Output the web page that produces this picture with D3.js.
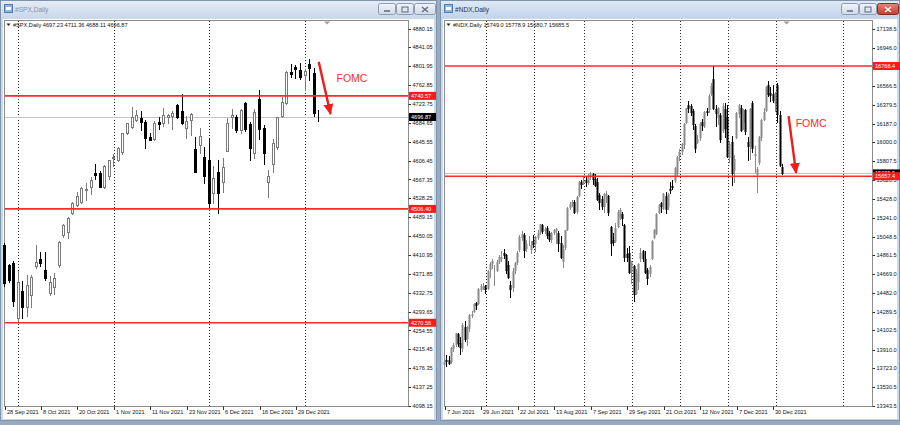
<!DOCTYPE html>
<html><head><meta charset="utf-8">
<script src="https://cdn.jsdelivr.net/npm/d3@7/dist/d3.min.js"></script>
<style>html,body{margin:0;padding:0;background:#9aabc0;}svg{display:block;font-family:"Liberation Sans",Arial,sans-serif;}</style>
</head><body>
<svg id="chart" width="900" height="425"></svg>
<script>
// ---------------- DATA ----------------
const spxDates = ["28 Sep 2021","29 Sep 2021","30 Sep 2021","1 Oct 2021","4 Oct 2021","5 Oct 2021","6 Oct 2021","7 Oct 2021","8 Oct 2021","11 Oct 2021","12 Oct 2021","13 Oct 2021","14 Oct 2021","15 Oct 2021","18 Oct 2021","19 Oct 2021","20 Oct 2021","21 Oct 2021","22 Oct 2021","25 Oct 2021","26 Oct 2021","27 Oct 2021","28 Oct 2021","29 Oct 2021","1 Nov 2021","2 Nov 2021","3 Nov 2021","4 Nov 2021","5 Nov 2021","8 Nov 2021","9 Nov 2021","10 Nov 2021","11 Nov 2021","12 Nov 2021","15 Nov 2021","16 Nov 2021","17 Nov 2021","18 Nov 2021","19 Nov 2021","22 Nov 2021","23 Nov 2021","24 Nov 2021","26 Nov 2021","29 Nov 2021","30 Nov 2021","1 Dec 2021","2 Dec 2021","3 Dec 2021","6 Dec 2021","7 Dec 2021","8 Dec 2021","9 Dec 2021","10 Dec 2021","13 Dec 2021","14 Dec 2021","15 Dec 2021","16 Dec 2021","17 Dec 2021","20 Dec 2021","21 Dec 2021","22 Dec 2021","23 Dec 2021","27 Dec 2021","28 Dec 2021","29 Dec 2021","30 Dec 2021","3 Jan 2022","4 Jan 2022","5 Jan 2022","6 Jan 2022"];
const spxOpen  = [4431.6,4390,4395,4279.7,4337,4303.7,4328,4388,4402.5,4379.8,4331.5,4345,4390,4452.3,4459,4498,4514.4,4521.3,4545.5,4552.3,4580.7,4580.1,4552.3,4574.5,4611.2,4607.7,4624.9,4663,4676.7,4690.6,4694.1,4685.8,4656,4650.6,4686.4,4683.7,4697.4,4698.8,4721.6,4709.8,4673.4,4690.6,4630,4638.8,4614.5,4607.7,4538.7,4583.4,4562.7,4627,4696.2,4697.4,4669.8,4725.2,4682.3,4621.6,4733.4,4673.4,4562.7,4599.4,4634,4698.8,4726.4,4790,4799.8,4794.2,4783.8,4806.6,4788.6,4697.23];
const spxHigh  = [4436,4393,4398,4378,4357,4369,4369,4431.6,4417.7,4417.7,4368,4372.9,4440,4476,4489,4520.4,4541,4551.4,4560,4572.6,4599.4,4584.6,4597.6,4608.1,4620.3,4635.2,4663.5,4685,4718,4711.3,4708.5,4690,4664.6,4688.5,4697.4,4715,4703,4708.8,4724,4743.8,4699.4,4705,4656,4674,4635.3,4653,4595.5,4608,4612.6,4694,4713.4,4700,4713.6,4728,4686,4712.6,4752.7,4680,4588,4651,4697.7,4738.8,4791.5,4807,4804.5,4808.9,4796.6,4817,4797.7,4711.36];
const spxLow   = [4346,4355,4306,4272.6,4280,4284,4303,4385,4388,4360,4328,4330,4386,4448,4447,4496,4513,4518,4524,4537.4,4569,4551.7,4550,4567.6,4595,4605,4621.2,4662.6,4675,4688,4670.9,4632,4648.3,4649,4672.9,4679,4684.4,4672.8,4694,4682,4652.7,4659.9,4582,4622,4560,4511,4518.6,4497.2,4540.5,4626,4674.5,4666,4664,4667.6,4607.7,4611.2,4651.9,4600,4531.6,4583,4630,4697,4724,4780,4778,4775,4752.7,4774,4699.4,4688.11];
const spxClose = [4353.4,4359,4315,4355.5,4303.7,4348.7,4366,4397,4393.6,4362.6,4355.5,4362.6,4438.4,4473,4487,4518.6,4533,4550.3,4547.6,4566.2,4576.6,4552.3,4595.3,4607.7,4614.5,4632,4663,4683.7,4696.2,4700.9,4685.8,4652.6,4649.1,4683.7,4682.3,4700.9,4700.9,4704.4,4697.4,4685,4689,4703,4583,4657.4,4574.5,4518,4569.8,4539.9,4592.6,4685,4700.9,4669.8,4711.3,4671.3,4632,4707.8,4671.3,4621.6,4574.5,4642.3,4696.2,4728.5,4789.4,4786,4795.6,4779,4792.7,4797.7,4705.7,4696.87];
const spxPriceTicks = [4880.15,4841.05,4801.95,4762.85,4723.75,4684.65,4645.55,4606.45,4567.35,4528.25,4489.15,4450.05,4410.95,4371.85,4332.75,4293.65,4254.55,4215.45,4176.35,4137.25,4098.15];
const spxDateTicks = ["28 Sep 2021","8 Oct 2021","20 Oct 2021","1 Nov 2021","11 Nov 2021","23 Nov 2021","6 Dec 2021","16 Dec 2021","29 Dec 2021"];
const spxGridDates = ["1 Oct 2021","1 Nov 2021","1 Dec 2021","3 Jan 2022"];
const spxFutureGrid = [];
const spxLevels = [4740.57, 4506.40, 4270.56];

const ndxDates = ["7 Jun 2021","8 Jun 2021","9 Jun 2021","10 Jun 2021","11 Jun 2021","14 Jun 2021","15 Jun 2021","16 Jun 2021","17 Jun 2021","18 Jun 2021","21 Jun 2021","22 Jun 2021","23 Jun 2021","24 Jun 2021","25 Jun 2021","28 Jun 2021","29 Jun 2021","30 Jun 2021",
"1 Jul 2021","2 Jul 2021","6 Jul 2021","7 Jul 2021","8 Jul 2021","9 Jul 2021","12 Jul 2021","13 Jul 2021","14 Jul 2021","15 Jul 2021","16 Jul 2021","19 Jul 2021","20 Jul 2021","21 Jul 2021","22 Jul 2021","23 Jul 2021","26 Jul 2021","27 Jul 2021","28 Jul 2021","29 Jul 2021","30 Jul 2021",
"2 Aug 2021","3 Aug 2021","4 Aug 2021","5 Aug 2021","6 Aug 2021","9 Aug 2021","10 Aug 2021","11 Aug 2021","12 Aug 2021","13 Aug 2021","16 Aug 2021","17 Aug 2021","18 Aug 2021","19 Aug 2021","20 Aug 2021","23 Aug 2021","24 Aug 2021","25 Aug 2021","26 Aug 2021","27 Aug 2021","30 Aug 2021","31 Aug 2021",
"1 Sep 2021","2 Sep 2021","3 Sep 2021","7 Sep 2021","8 Sep 2021","9 Sep 2021","10 Sep 2021","13 Sep 2021","14 Sep 2021","15 Sep 2021","16 Sep 2021","17 Sep 2021","20 Sep 2021","21 Sep 2021","22 Sep 2021","23 Sep 2021","24 Sep 2021","27 Sep 2021","28 Sep 2021","29 Sep 2021","30 Sep 2021",
"1 Oct 2021","4 Oct 2021","5 Oct 2021","6 Oct 2021","7 Oct 2021","8 Oct 2021","11 Oct 2021","12 Oct 2021","13 Oct 2021","14 Oct 2021","15 Oct 2021","18 Oct 2021","19 Oct 2021","20 Oct 2021","21 Oct 2021","22 Oct 2021","25 Oct 2021","26 Oct 2021","27 Oct 2021","28 Oct 2021","29 Oct 2021",
"1 Nov 2021","2 Nov 2021","3 Nov 2021","4 Nov 2021","5 Nov 2021","8 Nov 2021","9 Nov 2021","10 Nov 2021","11 Nov 2021","12 Nov 2021","15 Nov 2021","16 Nov 2021","17 Nov 2021","18 Nov 2021","19 Nov 2021","22 Nov 2021","23 Nov 2021","24 Nov 2021","26 Nov 2021","29 Nov 2021","30 Nov 2021",
"1 Dec 2021","2 Dec 2021","3 Dec 2021","6 Dec 2021","7 Dec 2021","8 Dec 2021","9 Dec 2021","10 Dec 2021","13 Dec 2021","14 Dec 2021","15 Dec 2021","16 Dec 2021","17 Dec 2021","20 Dec 2021","21 Dec 2021","22 Dec 2021","23 Dec 2021","27 Dec 2021","28 Dec 2021","29 Dec 2021","30 Dec 2021",
"3 Jan 2022","4 Jan 2022","5 Jan 2022","6 Jan 2022"];
const ndxOpen = [13760,13800,13800,13790,13930,13970,14070,13980,13930,14140,14030,14130,14260,14300,14380,14380,14520,14550,
14550,14530,14720,14780,14700,14710,14800,14830,14880,14860,14760,14560,14540,14710,14790,14920,15040,15060,14930,15000,14920,
15000,14980,15040,15090,15170,15110,15140,15080,15020,15090,15110,15080,14980,14800,14940,15130,15350,15390,15400,15310,15470,15600,
15590,15620,15600,15660,15680,15630,15600,15470,15430,15360,15470,15460,15150,15010,15000,15160,15250,15280,15170,14870,14880,
14700,14750,14480,14600,14830,14900,14820,14710,14680,14830,15040,15080,15300,15390,15340,15460,15360,15530,15560,15620,15690,
15870,15910,15980,16200,16380,16370,16310,16160,16000,16050,16200,16160,16310,16330,16500,16640,16330,16250,16270,16120,16330,
16250,15850,16000,15720,16050,16290,16350,16200,16320,16000,15960,16400,15870,15680,15800,16050,16230,16320,16580,16500,16490,
16400,16580,16270,15749.0];
const ndxHigh = [13800,13850,13840,13940,13975,14080,14080,14040,14180,14200,14145,14270,14300,14380,14390,14530,14570,14580,
14560,14710,14790,14820,14760,14810,14860,14900,14920,14870,14800,14600,14730,14790,14900,15060,15100,15080,15010,15050,15000,
15060,15050,15110,15180,15180,15150,15160,15100,15090,15130,15140,15100,15050,14960,15120,15350,15400,15420,15420,15460,15610,15620,
15660,15650,15680,15700,15690,15680,15640,15490,15460,15490,15510,15470,15160,15080,15190,15320,15340,15300,15180,14930,14950,
14800,14760,14720,14780,14930,14910,14900,14730,14760,15010,15130,15290,15380,15400,15490,15500,15490,15600,15620,15750,15860,
15930,15990,16190,16350,16420,16390,16330,16180,16070,16200,16230,16310,16340,16490,16600,16770,16380,16360,16290,16400,16400,
16380,16010,16060,15870,16300,16390,16380,16330,16330,16050,16350,16420,15960,15750,16060,16230,16340,16570,16620,16560,16580,
16510,16600,16310,15778.9];
const ndxLow = [13700,13740,13760,13770,13900,13950,13950,13860,13900,14000,13960,14100,14240,14290,14320,14370,14500,14520,
14480,14520,14640,14730,14560,14700,14780,14800,14830,14680,14630,14440,14500,14680,14770,14900,15010,14840,14900,14960,14880,
14940,14900,15020,15070,15080,15080,15030,15000,14990,15070,14980,14900,14830,14740,14920,15120,15330,15360,15290,15290,15460,15540,
15580,15560,15580,15630,15580,15560,15420,15330,15330,15300,15400,15270,14860,14960,14990,15150,15230,15170,14800,14800,14680,
14580,14400,14470,14520,14800,14800,14680,14570,14650,14820,15030,15070,15290,15300,15330,15290,15330,15490,15530,15600,15670,
15820,15880,15940,16190,16300,16270,16130,15900,15990,16020,16120,16150,16270,16300,16480,16330,16160,16180,16000,16100,16050,
15850,15800,15570,15600,16040,16250,16110,16130,16080,15820,15830,15900,15700,15500,15780,16020,16220,16310,16470,16420,16410,
16310,16200,15760,15680.7];
const ndxClose = [13785,13790,13778,13925,13960,14072,13973,13940,14160,14020,14140,14253,14272,14369,14360,14520,14553,14554,
14522,14700,14768,14802,14705,14793,14845,14840,14860,14716,14642,14519,14700,14778,14885,15040,15070,14910,14970,15000,14960,
14970,15040,15080,15176,15100,15130,15060,15020,15080,15120,15130,14980,14840,14920,15110,15340,15380,15400,15300,15450,15600,15580,
15610,15600,15650,15680,15630,15570,15430,15400,15360,15480,15480,15300,14980,14990,15140,15300,15320,15240,14840,14840,14690,
14790,14470,14680,14770,14880,14830,14690,14630,14740,15000,15120,15280,15370,15360,15480,15330,15480,15520,15550,15740,15850,
15900,15980,16180,16340,16350,16300,16180,15940,16030,16180,16170,16300,16300,16470,16570,16350,16290,16350,16030,16370,16140,
15860,15980,15690,15830,16290,16380,16120,16320,16110,15960,16330,15940,15880,15730,16050,16220,16300,16560,16490,16480,16430,
16500,16280,15770,15685.5];
const ndxPriceTicks = [17138.5,16946.0,16759.0,16566.5,16379.5,16187.0,16000.0,15807.5,15620.5,15428.0,15241.0,15048.5,14861.5,14669.0,14482.0,14289.5,14102.5,13910.0,13723.0,13530.5,13343.5];
const ndxDateTicks = ["7 Jun 2021","29 Jun 2021","22 Jul 2021","13 Aug 2021","7 Sep 2021","29 Sep 2021","21 Oct 2021","12 Nov 2021","7 Dec 2021","30 Dec 2021"];
const ndxGridDates = ["1 Jul 2021","2 Aug 2021","1 Sep 2021","1 Oct 2021","1 Nov 2021","1 Dec 2021","3 Jan 2022"];
const ndxFutureGrid = [26.4]; // bars after the last bar
const ndxLevels = [16768.4, 15657.4];

// annotation: [bars after last bar, price]
const spxArrow = [[0, 4811], [2.6, 4703]];
const spxNote  = [7.3, 4776];
const ndxArrow = [[2.7, 16264], [6.0, 15690]];
const ndxNote  = [12.6, 16193];

// ---------------- DRAW ----------------
const svg = d3.select("#chart");
const defs = svg.append("defs");
function grad(id, c1, c2){
  const g = defs.append("linearGradient").attr("id",id).attr("x1",0).attr("y1",0).attr("x2",0).attr("y2",1);
  g.append("stop").attr("offset","0%").attr("stop-color",c1);
  g.append("stop").attr("offset","100%").attr("stop-color",c2);
}
grad("tbIn","#e4ecf6","#cad8ea");
grad("tbAct","#dfe9f6","#c2d4eb");
grad("btn","#f2f5fa","#cfd9e6");
grad("btnRed","#e08a80","#c4392c");
defs.append("marker").attr("id","arrowHead").attr("markerUnits","userSpaceOnUse")
  .attr("markerWidth",12).attr("markerHeight",10).attr("refX",10).attr("refY",5).attr("orient","auto")
  .append("path").attr("d","M0,0 L11,5 L0,10 Z").attr("fill","#f01c1c");

svg.append("rect").attr("width",900).attr("height",425).attr("fill","#9aabc0");

function drawWindow(x0, x1, title, active){
  const g = svg.append("g");
  g.append("rect").attr("x",x0+0.5).attr("y",0.5).attr("width",x1-x0-1).attr("height",420)
    .attr("fill","#cbd9ea").attr("stroke","#7f93ab");
  g.append("rect").attr("x",x0+1).attr("y",1).attr("width",x1-x0-2).attr("height",17)
    .attr("fill", active ? "url(#tbAct)" : "url(#tbIn)");
  g.append("rect").attr("x",x0+3).attr("y",19).attr("width",x1-x0-6).attr("height",400).attr("fill","#fff");
  g.append("rect").attr("x",x0+4.5).attr("y",4.5).attr("width",8).attr("height",8).attr("fill","#8fb6e0").attr("stroke","#4d7db5");
  g.append("rect").attr("x",x0+6).attr("y",7).attr("width",5).attr("height",3).attr("fill","#fff");
  g.append("text").attr("x",x0+15).attr("y",12).attr("font-size",6.6)
    .attr("fill", active ? "#1d355a" : "#8193ab").text(title);
  const bx = x1 - 59;
  [[bx,17],[bx+18,17],[bx+36,21]].forEach(([x,w],i)=>{
    const red = active && i===2;
    g.append("rect").attr("x",x+0.5).attr("y",3.5).attr("width",w).attr("height",11).attr("rx",2)
      .attr("fill", red ? "url(#btnRed)" : "url(#btn)").attr("stroke", red ? "#8c2b22" : "#8a9cb4");
    const cx = x + w/2 + 0.5, cy = 9.5;
    const col = red ? "#fff" : "#5a6a80";
    if(i===0) g.append("line").attr("x1",cx-3).attr("x2",cx+3).attr("y1",cy+1.5).attr("y2",cy+1.5).attr("stroke",col).attr("stroke-width",1.5);
    if(i===1) g.append("rect").attr("x",cx-3).attr("y",cy-2.5).attr("width",6).attr("height",5).attr("fill","none").attr("stroke",col);
    if(i===2){
      g.append("path").attr("d",`M${cx-3},${cy-2.5}L${cx+3},${cy+2.5}M${cx+3},${cy-2.5}L${cx-3},${cy+2.5}`).attr("stroke",col).attr("stroke-width",1.3);
    }
  });
}
drawWindow(0, 437, "#SPX,Daily", false);
drawWindow(440, 900, "#NDX,Daily", true);

function drawChart(cfg){
  const {dates, O, H, L, C, priceTicks, dateTicks, gridDates, futureGrid, levels, left, right, top, bottom,
         xFirst, xLast, yTopVal, yTop, yBotVal, yBot, name, dec, bodyW, bullFill, bullStroke, arrow, note} = cfg;
  const g = svg.append("g");
  const x = d3.scalePoint().domain(dates).range([xFirst, xLast]);
  const step = x.step();
  const xAt = (barsAfterLast) => xLast + barsAfterLast*step;
  const y = d3.scaleLinear().domain([yBotVal, yTopVal]).range([yBot, yTop]);
  const last = dates.length - 1;

  g.append("rect").attr("x",left+0.5).attr("y",top+0.5).attr("width",right-left).attr("height",bottom-top)
    .attr("fill","#fff").attr("stroke","#8c8c8c");

  const gridX = gridDates.map(d=>x(d)).concat(futureGrid.map(xAt));
  g.selectAll(".vg").data(gridX).enter().append("line")
    .attr("x1",d=>Math.round(d)+0.5).attr("x2",d=>Math.round(d)+0.5)
    .attr("y1",top+1).attr("y2",bottom)
    .attr("stroke","#2a2a2a").attr("stroke-dasharray","1,2").attr("stroke-width",1);

  const cur = C[last];
  g.append("line").attr("x1",left+1).attr("x2",right).attr("y1",Math.round(y(cur))+0.5).attr("y2",Math.round(y(cur))+0.5)
    .attr("stroke","#c4c4c4");

  const cg = g.append("g");
  d3.range(dates.length).forEach(i=>{
    const cx = Math.floor(x(dates[i])) + 0.5;
    const bull = C[i] >= O[i];
    const col = bull ? bullStroke : "#000";
    cg.append("line").attr("x1",cx).attr("x2",cx)
      .attr("y1",Math.round(y(H[i]))).attr("y2",Math.round(y(L[i]))+1)
      .attr("stroke",col).attr("stroke-width",1);
    const yt = Math.round(y(Math.max(O[i],C[i]))) + 0.5;
    const yb = Math.round(y(Math.min(O[i],C[i]))) + 0.5;
    cg.append("rect").attr("x",cx-bodyW/2).attr("y",yt).attr("width",bodyW).attr("height",Math.max(0,yb-yt))
      .attr("fill", bull ? bullFill : "#000").attr("stroke",col).attr("stroke-width",1);
  });

  g.selectAll(".lv").data(levels).enter().append("line")
    .attr("x1",left+1).attr("x2",right).attr("y1",d=>y(d)).attr("y2",d=>y(d))
    .attr("stroke","#ff2a2a").attr("stroke-width",1.6);

  const sx = xAt(1.85);
  g.append("path").attr("d",`M${sx-3},${top+1.5}L${sx+3},${top+1.5}L${sx},${top+4.5}Z`).attr("fill","#9c9c9c");

  const fs = 5.6;
  g.selectAll(".pt").data(priceTicks).enter().append("line")
    .attr("x1",right+0.5).attr("x2",right+3).attr("y1",d=>Math.round(y(d))+0.5).attr("y2",d=>Math.round(y(d))+0.5)
    .attr("stroke","#333");
  g.selectAll(".pl").data(priceTicks).enter().append("text")
    .attr("x",right+4.5).attr("y",d=>y(d)+2).attr("font-size",fs).attr("fill","#111")
    .text(d=>d.toFixed(dec));

  const lab = (val, bg) => {
    const yy = y(val);
    g.append("rect").attr("x",right+1).attr("y",yy-4).attr("width",27).attr("height",8).attr("fill",bg);
    g.append("text").attr("x",right+3).attr("y",yy+2).attr("font-size",fs).attr("fill","#fff").text(val.toFixed(dec));
  };
  lab(cur, "#000");
  levels.forEach(v=>lab(v, "#ff1a1a"));

  g.selectAll(".dt").data(dateTicks).enter().append("line")
    .attr("x1",d=>Math.round(x(d))+0.5).attr("x2",d=>Math.round(x(d))+0.5)
    .attr("y1",bottom+0.5).attr("y2",bottom+4).attr("stroke","#333");
  g.selectAll(".dl").data(dateTicks).enter().append("text")
    .attr("x",d=>Math.round(x(d))+2).attr("y",bottom+8).attr("font-size",fs).attr("fill","#111").text(d=>d);

  g.append("path").attr("d",`M${left+2.5},${top+3.5}L${left+6.5},${top+3.5}L${left+4.5},${top+6}Z`).attr("fill","#222");
  g.append("text").attr("x",left+9).attr("y",top+6.5).attr("font-size",fs).attr("fill","#111")
    .text(`${name} ${O[last].toFixed(dec)} ${H[last].toFixed(dec)} ${L[last].toFixed(dec)} ${C[last].toFixed(dec)}`);

  g.append("line").attr("x1",xAt(arrow[0][0])).attr("y1",y(arrow[0][1]))
    .attr("x2",xAt(arrow[1][0])).attr("y2",y(arrow[1][1]))
    .attr("stroke","#f01c1c").attr("stroke-width",2.4).attr("marker-end","url(#arrowHead)");
  g.append("text").attr("x",xAt(note[0])).attr("y",y(note[1])+3.5).attr("text-anchor","middle")
    .attr("font-size",10.5).attr("fill","#f23030").text("FOMC");
}

drawChart({dates:spxDates, O:spxOpen, H:spxHigh, L:spxLow, C:spxClose, priceTicks:spxPriceTicks,
  dateTicks:spxDateTicks, gridDates:spxGridDates, futureGrid:spxFutureGrid, levels:spxLevels,
  left:4, right:408, top:20, bottom:406, xFirst:4.5, xLast:318.7,
  yTopVal:4880.15, yTop:28.5, yBotVal:4098.15, yBot:406, name:"#SPX,Daily", dec:2,
  bodyW:2, bullFill:"#fff", bullStroke:"#7a7a7a", arrow:spxArrow, note:spxNote});

drawChart({dates:ndxDates, O:ndxOpen, H:ndxHigh, L:ndxLow, C:ndxClose, priceTicks:ndxPriceTicks,
  dateTicks:ndxDateTicks, gridDates:ndxGridDates, futureGrid:ndxFutureGrid, levels:ndxLevels,
  left:444, right:872, top:20, bottom:406, xFirst:444.7, xLast:782.4,
  yTopVal:17138.5, yTop:29.3, yBotVal:13343.5, yBot:405.7, name:"#NDX,Daily", dec:1,
  bodyW:1, bullFill:"#9a9a9a", bullStroke:"#8a8a8a", arrow:ndxArrow, note:ndxNote});
</script>
</body></html>
